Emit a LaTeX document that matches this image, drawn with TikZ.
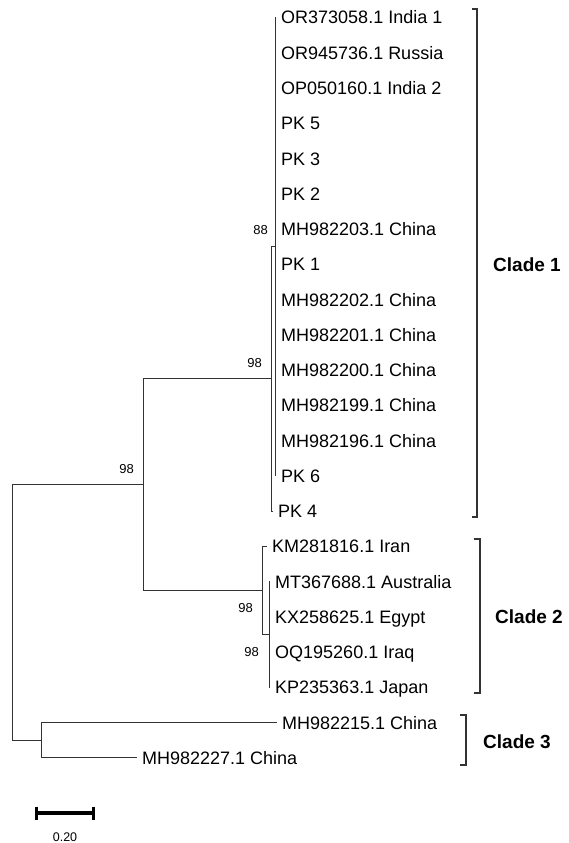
\documentclass[tikz,border=0pt]{standalone}
\usepackage{fontspec}
\setmainfont{Liberation Sans}
\tikzset{
  leaf/.style={anchor=west,inner xsep=5pt,inner ysep=0pt,text height=13pt,text depth=0pt,font=\fontsize{18}{20}\selectfont},
  boot/.style={anchor=east,inner sep=0pt,text height=9.5pt,text depth=0pt,font=\fontsize{13}{13}\selectfont},
  cladelbl/.style={anchor=west,inner sep=0pt,text height=13.5pt,text depth=0pt,font=\fontsize{19}{20}\selectfont\bfseries},
  branch/.style={draw=black!80,line width=1pt},
  elbow/.style={to path={|- (\tikztotarget)}},
  bracket/.style={draw=black!80,line width=1.2pt}
}

\begin{document}
\begin{tikzpicture}[x=1pt,y=-1pt]
        % pixel grid of the figure, y running downwards
        \useasboundingbox (0,0) rectangle (568,843);
        \coordinate (root) at (12,612.3);
        \coordinate (n98top) at (143,484.6);
        \coordinate (n98a) at (271,378.8);
        \coordinate (n88) at (275,246.6);
        \coordinate (n98b) at (262,590.3);
        \coordinate (n98c) at (269,634.4);
        \coordinate (n3) at (41,740.1);
        % Clade 1
        \node[leaf] (or373) at (276,17.5) {OR373058.1 India 1};
        \node[leaf] (or945) at (276,52.75) {OR945736.1 Russia};
        \node[leaf] (op050) at (276,88) {OP050160.1 India 2};
        \node[leaf] (pk5) at (276,123.25) {PK 5};
        \node[leaf] (pk3) at (276,158.5) {PK 3};
        \node[leaf] (pk2) at (276,193.75) {PK 2};
        \node[leaf] (mh203) at (276,229) {MH982203.1 China};
        \node[leaf] (pk1) at (276,264.25) {PK 1};
        \node[leaf] (mh202) at (276,299.5) {MH982202.1 China};
        \node[leaf] (mh201) at (276,334.75) {MH982201.1 China};
        \node[leaf] (mh200) at (276,370) {MH982200.1 China};
        \node[leaf] (mh199) at (276,405.25) {MH982199.1 China};
        \node[leaf] (mh196) at (276,440.5) {MH982196.1 China};
        \node[leaf] (pk6) at (276,475.75) {PK 6};
        \node[leaf] (pk4) at (273,511) {PK 4};
        % Clade 2
        \node[leaf] (km281) at (267,546.25) {KM281816.1 Iran};
        \node[leaf] (mt367) at (270,581.5) {MT367688.1 Australia};
        \node[leaf] (kx258) at (270,616.75) {KX258625.1 Egypt};
        \node[leaf] (oq195) at (270,652) {OQ195260.1 Iraq};
        \node[leaf] (kp235) at (270,687.25) {KP235363.1 Japan};
        % Clade 3
        \node[leaf] (mh215) at (277,722.5) {MH982215.1 China};
        \node[leaf] (mh227) at (137,757.75) {MH982227.1 China};
        \path[branch]
          (root) edge[elbow] (n98top)
          (root) edge[elbow] (n3)
          (n98top) edge[elbow] (n98a)
          (n98top) edge[elbow] (n98b)
          (n98a) edge[elbow] (n88)
          (n98a) edge[elbow] (pk4)
          (n88) edge[elbow] (or373)
          (n88) edge[elbow] (or945)
          (n88) edge[elbow] (op050)
          (n88) edge[elbow] (pk5)
          (n88) edge[elbow] (pk3)
          (n88) edge[elbow] (pk2)
          (n88) edge[elbow] (mh203)
          (n88) edge[elbow] (pk1)
          (n88) edge[elbow] (mh202)
          (n88) edge[elbow] (mh201)
          (n88) edge[elbow] (mh200)
          (n88) edge[elbow] (mh199)
          (n88) edge[elbow] (mh196)
          (n88) edge[elbow] (pk6)
          (n98b) edge[elbow] (km281)
          (n98b) edge[elbow] (n98c)
          (n98c) edge[elbow] (mt367)
          (n98c) edge[elbow] (kx258)
          (n98c) edge[elbow] (oq195)
          (n98c) edge[elbow] (kp235)
          (n3) edge[elbow] (mh215)
          (n3) edge[elbow] (mh227);
        % bootstrap values
        \node[boot] (b98top) at (134,469) {98};
        \node[boot] (b98a) at (262,363) {98};
        \node[boot] (b88) at (268,230) {88};
        \node[boot] (b98b) at (253,608) {98};
        \node[boot] (b98c) at (259,652) {98};
        % clade brackets
        \draw[bracket] (472,9) -- (477,9) -- (477,517) -- (472,517);
        \draw[bracket] (474,539) -- (480,539) -- (480,693) -- (474,693);
        \draw[bracket] (460,715) -- (466,715) -- (466,765) -- (460,765);
        \node[cladelbl] (clade1) at (493,265) {Clade 1};
        \node[cladelbl] (clade2) at (495,617) {Clade 2};
        \node[cladelbl] (clade3) at (483,742) {Clade 3};
        % scale bar
        \coordinate (sb0) at (35,813);
        \coordinate (sb1) at (95,813);
        \draw[line width=4pt] (sb0) -- (sb1);
        \draw[line width=3pt] ([shift={(1.5,-6.5)}]sb0) -- ([shift={(1.5,6.5)}]sb0)
          ([shift={(-1.5,-6.5)}]sb1) -- ([shift={(-1.5,6.5)}]sb1);
        \node[font=\fontsize{12.5}{13}\selectfont,inner sep=0pt] (sblbl) at (65,837) {0.20};
      \end{tikzpicture}
\end{document}
